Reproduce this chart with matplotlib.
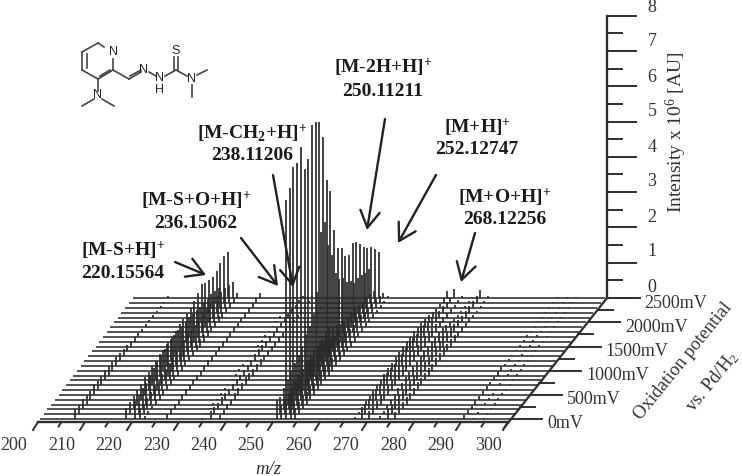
import matplotlib
matplotlib.use('Agg')
import matplotlib.pyplot as plt
import numpy as np

plt.rcParams['font.family'] = ['Liberation Serif', 'DejaVu Serif']
plt.rcParams['mathtext.fontset'] = 'custom'
plt.rcParams['mathtext.rm'] = 'Liberation Serif'
plt.rcParams['mathtext.bf'] = 'Liberation Serif:bold'
plt.rcParams['mathtext.it'] = 'Liberation Serif:italic'

# one intensity per oxidation step, 0mV (front) to 2500mV (back), in 10^6 AU
potentials = list(range(0, 2600, 100))
mz_207 = [.28, .25, .3, .28, .26, .3, .25, .27, .3, .28, .26, .24, .22, .2, .18, .16, .14, .12, .1, .08, .07, .06, .05, .05, .04, .05]
mz_218 = [.32, .35, .38, .4, .45, .5, .5, .55, .55, .6, .6, .62, .62, .6, .6, .58, .55, .55, .5, .5, .45, .45, .4, .38, .35, .3]
mz_220 = [.5, .55, .6, .62, .7, .75, .8, .85, .9, .95, .95, 1.0, 1.05, 1.05, 1.1, 1.1, 1.15, 1.25, 1.37, 1.25, 1.21, 1.16, 1.19, 1.28, 1.33, 1.31]
mz_221 = [.3, .3, .32, .35, .38, .4, .45, .45, .5, .55, .55, .6, .6, .62, .6, .6, .6, .62, .65, .65, .6, .6, .58, .55, .5, .45]
mz_222 = [.08, .1, .1, .12, .12, .14, .14, .15, .15, .16, .16, .18, .18, .18, .18, .2, .2, .2, .18, .18, .18, .16, .16, .15, .15, .14]
mz_227 = [.14, .15, .15, .14, .15, .16, .15, .16, .15, .14, .15, .16, .14, .15, .14, .15, .14, .13, .14, .12, .13, .12, .14, .13, .15, .16]
mz_234 = [.04, .04, .05, .04, .03, .04, .05, .04, .04, .05, .04, .04, .03, .04, .05, .04, .04, .04, .03, .04, .03, .04, .03, .03, .03, .03]
mz_236 = [.22, .2, .18, .2, .18, .17, .16, .18, .16, .15, .16, .18, .2, .2, .18, .16, .15, .14, .15, .12, .12, .1, .1, .08, .08, .07]
mz_238 = [.1, .12, .15, .14, .18, .2, .2, .22, .2, .18, .18, .2, .18, .16, .16, .14, .12, .1, .12, .1, .08, .08, .07, .06, .06, .05]
mz_250 = [.55, .5, .6, .7, .8, .9, 1.0, 1.1, 1.3, 1.4, 1.6, 2.1, 3.66, 3.81, 3.0, 2.6, 1.94, 1.63, 1.52, 1.29, 1.18, .99, .97, .93, .86, .82]
mz_251 = [.4, .42, .45, .5, .55, .55, .6, .65, .65, .7, .7, .75, .8, .8, .7, .6, .5, .45, .42, .4, .38, .35, .3, .3, .25, .2]
mz_252 = [6.2, 6.4, 6.87, 6.83, 7.15, 6.39, 6.54, 7.37, 7.31, 7.17, 6.63, 5.27, 4.82, 3.58, 2.92, 2.78, 2.43, 2.32, 2.53, 2.41, 2.22, 2.01, 1.84, 1.73, 1.52, 1.32]
mz_253 = [.9, .95, 1.0, 1.0, 1.05, .92, .95, 1.05, 1.05, 1.0, .95, .75, .7, .5, .42, .4, .35, .33, .36, .34, .3, .28, .26, .24, .2, .16]
mz_254 = [.32, .34, .38, .36, .4, .34, .36, .4, .4, .38, .36, .3, .26, .2, .16, .15, .13, .12, .13, .12, .11, .1, .09, .08, .06, .05]
mz_266 = [.06, .06, .08, .1, .1, .12, .14, .16, .18, .2, .22, .24, .25, .26, .28, .28, .3, .28, .26, .22, .2, .16, .14, .12, .14, .2]
mz_268 = [.3, .28, .3, .32, .3, .32, .34, .35, .34, .32, .34, .35, .36, .38, .38, .36, .38, .35, .32, .28, .24, .2, .18, .16, .18, .25]
mz_270 = [.22, .24, .25, .26, .26, .28, .28, .3, .3, .28, .3, .3, .32, .32, .3, .3, .28, .26, .22, .18, .14, .12, .1, .08, .08, .06]
mz_272 = [.08, .1, .12, .14, .16, .18, .2, .22, .24, .25, .26, .28, .3, .3, .3, .28, .28, .26, .2, .16, .1, .08, .06, .05, .05, .04]
mz_274 = [.28, .26, .25, .26, .24, .26, .25, .26, .24, .25, .24, .25, .26, .28, .28, .3, .28, .26, .22, .2, .18, .18, .18, .2, .2, .22]
mz_275 = [.2, .22, .2, .22, .2, .2, .22, .2, .22, .2, .2, .22, .22, .24, .22, .2, .2, .16, .14, .12, .1, .08, .06, .05, .05, .05]
mz_290 = [.12, .12, .1, .12, .1, .1, .12, .1, .1, .12, .1, .06, .05, .04, .04, .04, .04, .04, .03, .03, .03, .03, .03, .03, .03, .03]
mz_292 = [.04, .05, .05, .04, .05, .05, .04, .05, .05, .04, .05, .05, .04, .05, .04, .04, .04, .04, .03, .04, .03, .03, .03, .03, .03, .03]
mz_294 = [.04, .04, .03, .04, .05, .04, .04, .04, .05, .04, .04, .05, .04, .04, .03, .04, .03, .03, .04, .03, .03, .03, .03, .03, .03, .03]

peak_mz = [207.5, 218.3, 220.15, 221.2, 222.2, 227, 234.4, 236.15, 238.11, 250.11, 251.1, 252.13, 253.13, 254.12,
           266.7, 268.12, 269.8, 272, 273.7, 275.3, 289.9, 292, 294]
peak_rows = [mz_207, mz_218, mz_220, mz_221, mz_222, mz_227, mz_234, mz_236, mz_238, mz_250, mz_251, mz_252, mz_253, mz_254,
             mz_266, mz_268, mz_270, mz_272, mz_274, mz_275, mz_290, mz_292, mz_294]

mz_ticks = list(range(200, 301, 10))
intensity_ticks = list(range(0, 9))

annotations = [
    (r'$\mathbf{[M\text{-}S{+}H]^{+}}$', '220.15564', 123, 250, 273, (175, 262), (206, 275)),
    (r'$\mathbf{[M\text{-}S{+}O{+}H]^{+}}$', '236.15062', 196, 200, 223, (241, 238), (278, 286)),
    (r'$\mathbf{[M\text{-}CH_{2}{+}H]^{+}}$', '238.11206', 252, 133, 156, (273, 175), (293, 287)),
    (r'$\mathbf{[M\text{-}2H{+}H]^{+}}$', '250.11211', 383, 67, 91, (385, 119), (367, 230)),
    (r'$\mathbf{[M{+}H]^{+}}$', '252.12747', 477, 127, 149, (436, 175), (398, 243)),
    (r'$\mathbf{[M{+}O{+}H]^{+}}$', '268.12256', 505, 197, 220, (475, 233), (461, 282)),
]

dark = '#2e2e2e'
txt = '#333333'


# oblique projection: m/z runs right, potential runs back, intensity runs up
def project(mz, mv, height=0):
    step = mv / 100.0
    x = 40 + (np.asarray(mz, dtype=float) - 200) * 4.72 + 3.7 * step
    y = 419 - 4.83 * step - height * 35.3 + 0 * x
    return x, y


fig = plt.figure(figsize=(7.42, 4.76), dpi=100)
ax = fig.add_axes([0, 0, 1, 1])
ax.set_xlim(0, 742)
ax.set_ylim(476, 0)
ax.axis('off')

# spectrum baselines
for mv in potentials:
    x, y = project([200, 300], mv)
    ax.plot(x, y, color='#444444', lw=1.3, solid_capstyle='butt', zorder=2)

# peaks
for mz, row in zip(peak_mz, peak_rows):
    for mv, h in zip(potentials, row):
        x0, y0 = project(mz, mv)
        x1, y1 = project(mz, mv, h)
        ax.plot([x0, x1], [y0, y1], color='#2a2a2a', lw=1.25, solid_capstyle='butt', zorder=3)

# m/z axis along the front
ax.plot([38, 508], [421.7, 421.7], color=dark, lw=1.7, zorder=4)
for mz in np.arange(200, 301, 5):
    x = 38 + (mz - 200) * 4.7
    major = mz % 10 == 0
    ax.plot([x, x - (5 if major else 3)], [422, 430 if major else 426.5], color=dark, lw=1.4, zorder=4)
for mz in mz_ticks:
    ax.text(14 + (mz - 200) * 4.74, 446, str(mz), ha='center', va='center', fontsize=13, color=txt)
ax.text(268, 469, 'm/z', ha='center', va='center', fontsize=13.5, style='italic', color=txt)

# potential axis along the right edge
ax.plot([504, 607], [428, 298], color=dark, lw=1.6, zorder=4)
for mv in range(0, 2501, 250):
    step = mv / 100.0
    y = 419 - 4.83 * step
    x = 510 + 3.9 * step
    major = mv % 500 == 0
    ax.plot([x, x + (32 if major else 15)], [y, y], color=dark, lw=1.4, zorder=4)
    if major:
        ax.text(x + 37, y + 5, f'{mv}mV', ha='left', va='center', fontsize=13, color=txt)
ax.text(683, 361, 'Oxidation potential', ha='center', va='center', rotation=51, rotation_mode='anchor',
        fontsize=13.5, color=txt)
ax.text(712, 382, r'vs. Pd/H$_{\mathrm{2}}$', ha='center', va='center', rotation=51, rotation_mode='anchor',
        fontsize=13.5, color=txt)

# intensity axis
ax.plot([607, 607], [298, 15.7], color=dark, lw=1.7, zorder=4)
for v in np.arange(0, 8.01, 0.5):
    y = 298 - v * 35.3
    major = v == int(v)
    ax.plot([607, 636 if major else 622], [y, y], color=dark, lw=1.4, zorder=4)
for v in intensity_ticks:
    ax.text(652, 287 - v * 35, str(v), ha='center', va='center', fontsize=13, color=txt)
ax.text(676, 132, r'Intensity x 10$^{\mathrm{6}}$ [AU]', ha='center', va='center', rotation=90, fontsize=14, color=txt)

# peak labels and arrows
for label, mass, cx, y1, y2, start, tip in annotations:
    ax.text(cx, y1, label, ha='center', va='center', fontsize=14, color='#1a1a1a')
    ax.text(cx, y2, mass, ha='center', va='center', fontsize=14, fontweight='bold', color='#1a1a1a')
    ax.annotate('', xy=tip, xytext=start, zorder=6,
                arrowprops=dict(arrowstyle='->,head_length=0.85,head_width=0.5', lw=1.7, color='#222222',
                                shrinkA=0, shrinkB=0, mutation_scale=14))

# structure drawing
bonds = [((98, 43), (82, 52)), ((82, 52), (82, 70)), ((82, 70), (98, 79)), ((98, 79), (113, 70)),
         ((113, 70), (113, 59)), ((104, 47), (98, 43)), ((98, 79), (98, 91)), ((94, 99), (82, 106)),
         ((102, 99), (114, 106)), ((113, 70), (129, 79)), ((129, 79), (141, 72)), ((149, 72), (156, 76)),
         ((165, 76), (176, 70)), ((176, 70), (187, 76)), ((192, 85), (192, 97)), ((197, 75), (207, 70))]
double_bonds = [((87, 54), (87, 68)), ((100, 76), (110, 70)), ((130, 76), (141, 70)), ((174, 70), (174, 57)), ((178, 70), (178, 57))]
for (a, b) in bonds + double_bonds:
    ax.plot([a[0], b[0]], [a[1], b[1]], color='#444444', lw=1.2, zorder=2)
for s, x, y in [('N', 113, 52), ('N', 98, 95), ('N', 144, 70), ('N', 160, 78), ('H', 160, 90), ('S', 176, 51), ('N', 192, 79)]:
    ax.text(x, y, s, ha='center', va='center', fontsize=9, family='Liberation Sans', color='#222222')

plt.savefig('out.png', dpi=100)
plt.close()
